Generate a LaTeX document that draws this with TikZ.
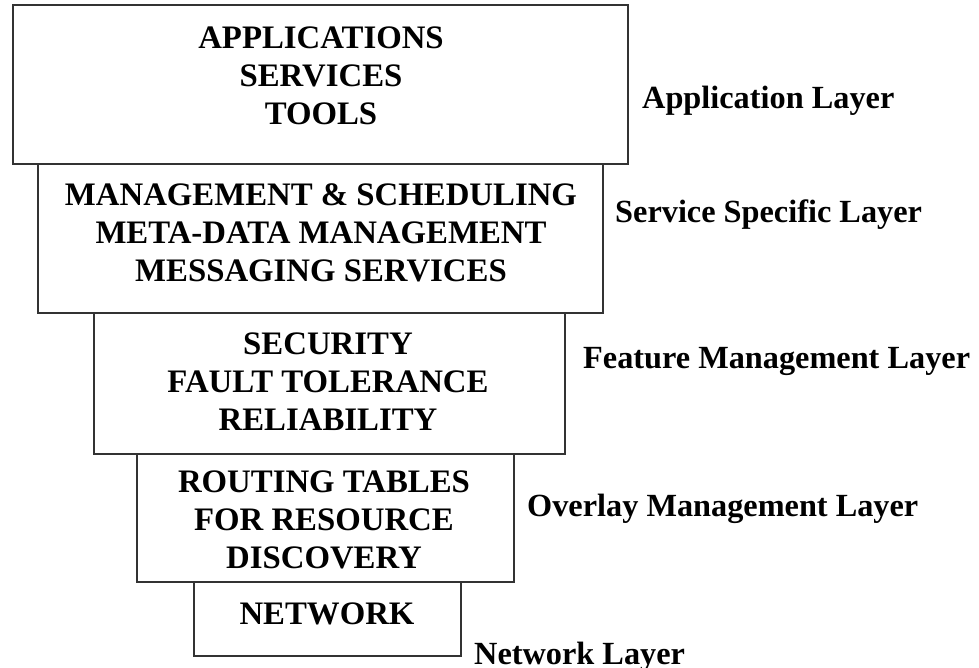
\documentclass[tikz,border=0pt]{standalone}
\usepackage{fontspec}
\setmainfont{Liberation Serif}
\begin{document}
\begin{tikzpicture}[x=1pt,y=-1pt,
  layerbox/.style={draw=black!80,line width=2pt},
  boxtext/.style={inner sep=0pt,anchor=base,align=center,font=\bfseries\fontsize{32.8}{37.8}\selectfont},
  sidelabel/.style={inner sep=0pt,anchor=base west,font=\bfseries\fontsize{32.3}{37.5}\selectfont}]
\useasboundingbox (0,0) rectangle (979,667);
\path[fill=white] (0,0) rectangle (979,667);
% boxes
\draw[layerbox] (13,5) rectangle (628,164) coordinate (b1);
\draw[layerbox] (38,164) rectangle (603,313) coordinate (b2);
\draw[layerbox] (94,313) rectangle (565,454) coordinate (b3);
\draw[layerbox] (137,454) rectangle (514,582) coordinate (b4);
\draw[layerbox] (194,582) rectangle (461,656) coordinate (b5);
% box texts (anchor = baseline of last line)
\node[boxtext] (t1) at (321,124) {APPLICATIONS\\SERVICES\\TOOLS};
\node[boxtext] (t2) at (321,281) {MANAGEMENT \& SCHEDULING\\META-DATA MANAGEMENT\\MESSAGING SERVICES};
\node[boxtext] (t3) at (328,430) {SECURITY\\FAULT TOLERANCE\\RELIABILITY};
\node[boxtext] (t4) at (324,568) {ROUTING TABLES\\FOR RESOURCE\\DISCOVERY};
\node[boxtext] (t5) at (327,624) {NETWORK};
% side labels
\node[sidelabel] (l1) at (642,108) {Application Layer};
\node[sidelabel] (l2) at (615,222) {Service Specific Layer};
\node[sidelabel] (l3) at (583,368) {Feature Management Layer};
\node[sidelabel] (l4) at (527,516) {Overlay Management Layer};
\node[sidelabel] (l5) at (474,664) {Network Layer};
\end{tikzpicture}
\end{document}
